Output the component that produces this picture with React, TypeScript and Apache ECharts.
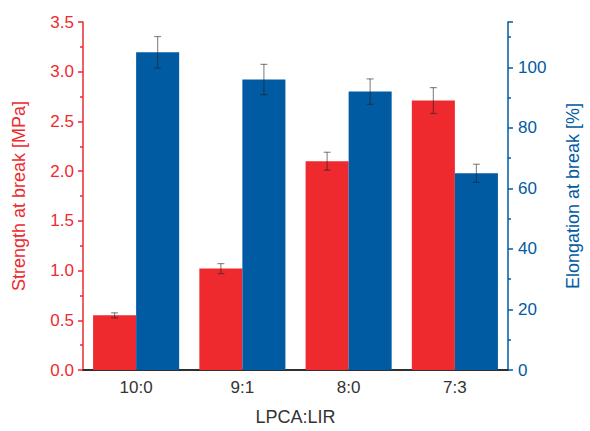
import React, { useEffect, useRef } from "react";
import * as echarts from "echarts";

const categories = ["10:0", "9:1", "8:0", "7:3"];
const strength = [0.55, 1.02, 2.1, 2.71];
const strengthErr = [0.025, 0.05, 0.09, 0.13];
const elongation = [105, 96, 92, 65];
const elongationErr = [5.2, 5, 4.2, 3];

const RED = "#EE2A2F";
const BLUE = "#015BA3";
const FONT = "Liberation Sans";
const GAP = 0.19;

function errorSeries(name: string, vals: number[], errs: number[], yIdx: number, side: number) {
  return {
    type: "custom",
    name,
    yAxisIndex: yIdx,
    z: 10,
    data: vals.map((v, i) => [i, v - errs[i], v + errs[i]]),
    renderItem: (params: any, api: any) => {
      const i = api.value(0);
      const lo = api.coord([i, api.value(1)]);
      const hi = api.coord([i, api.value(2)]);
      const band = api.size([1, 0])[0];
      const bw = (band * (1 - GAP)) / 2;
      const x = lo[0] + (side * bw) / 2;
      const cap = 3.5;
      const style = { stroke: "rgba(30,30,30,0.5)", lineWidth: 1.2 };
      return {
        type: "group",
        children: [
          { type: "line", shape: { x1: x, y1: lo[1], x2: x, y2: hi[1] }, style },
          { type: "line", shape: { x1: x - cap, y1: lo[1], x2: x + cap, y2: lo[1] }, style },
          { type: "line", shape: { x1: x - cap, y1: hi[1], x2: x + cap, y2: hi[1] }, style },
        ],
      };
    },
  };
}

export default function App() {
  const ref = useRef<HTMLDivElement>(null);
  useEffect(() => {
    document.body.style.margin = "0";
    document.body.style.overflow = "hidden";
    const chart = echarts.init(ref.current!, null, { renderer: "svg" });
    chart.setOption({
      animation: false,
      textStyle: { fontFamily: FONT },
      grid: { left: 83, right: 73, top: 22, bottom: 56 },
      xAxis: [
        {
          type: "category",
          data: categories,
          axisLine: { lineStyle: { color: "#222", width: 1.5 } },
          axisTick: { show: false },
          axisLabel: { color: "#333", fontSize: 17, margin: 9, fontFamily: FONT },
          name: "LPCA:LIR",
          nameLocation: "middle",
          nameGap: 38,
          nameTextStyle: { color: "#333", fontSize: 18, fontFamily: FONT },
        },
        {
          type: "category",
          data: categories,
          position: "top",
          axisLine: { lineStyle: { color: "#222", width: 1.5 } },
          axisTick: { show: false },
          axisLabel: { show: false },
        },
      ],
      yAxis: [
        {
          type: "value",
          min: 0,
          max: 3.5,
          interval: 0.5,
          position: "left",
          splitLine: { show: false },
          axisLine: { show: true, lineStyle: { color: RED, width: 1.5 } },
          axisTick: { show: true, length: 5, lineStyle: { color: RED, width: 1.5 } },
          minorTick: { show: true, splitNumber: 2, length: 3, lineStyle: { color: RED, width: 1.5 } },
          axisLabel: {
            color: RED,
            fontSize: 17,
            margin: 9,
            fontFamily: FONT,
            formatter: (v: number) => v.toFixed(1),
          },
          name: "Strength at break [MPa]",
          nameLocation: "middle",
          nameGap: 55,
          nameTextStyle: { color: RED, fontSize: 18, fontFamily: FONT },
        },
        {
          type: "value",
          min: 0,
          max: 115,
          interval: 20,
          position: "right",
          splitLine: { show: false },
          axisLine: { show: true, lineStyle: { color: BLUE, width: 1.5 } },
          axisTick: { show: true, length: 5, lineStyle: { color: BLUE, width: 1.5 } },
          minorTick: { show: true, splitNumber: 2, length: 3, lineStyle: { color: BLUE, width: 1.5 } },
          axisLabel: { color: BLUE, fontSize: 17, margin: 10, fontFamily: FONT, showMaxLabel: false },
          name: "Elongation at break [%]",
          nameLocation: "middle",
          nameGap: 56,
          nameTextStyle: { color: BLUE, fontSize: 18, fontFamily: FONT },
        },
      ],
      series: [
        {
          type: "bar",
          name: "Strength",
          data: strength,
          yAxisIndex: 0,
          barGap: "0%",
          barCategoryGap: GAP * 100 + "%",
          itemStyle: { color: RED },
        },
        {
          type: "bar",
          name: "Elongation",
          data: elongation,
          yAxisIndex: 1,
          barGap: "0%",
          barCategoryGap: GAP * 100 + "%",
          itemStyle: { color: BLUE },
        },
        errorSeries("StrengthErr", strength, strengthErr, 0, -1),
        errorSeries("ElongationErr", elongation, elongationErr, 1, 1),
      ],
    });
    return () => chart.dispose();
  }, []);
  return <div ref={ref} style={{ width: 590, height: 431 }} />;
}
